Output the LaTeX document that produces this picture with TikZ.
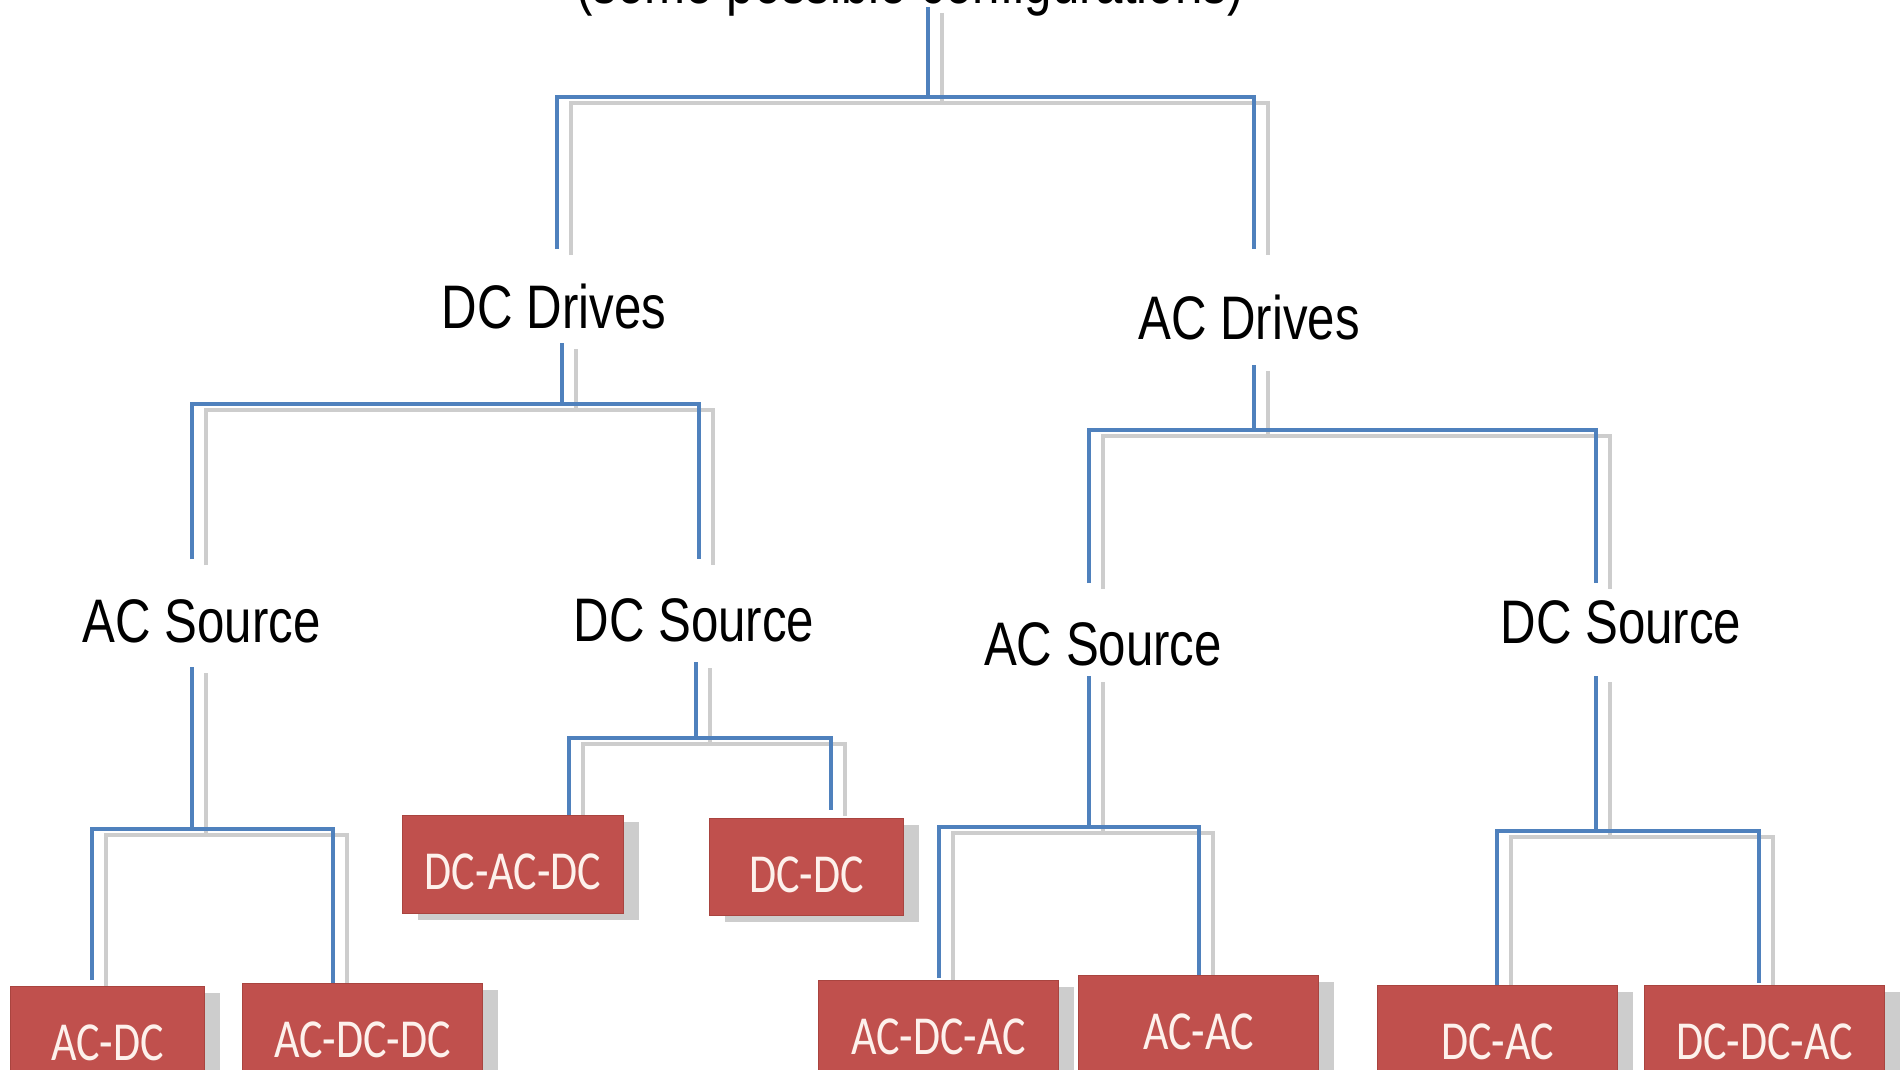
\documentclass[tikz,border=0pt]{standalone}
\usepackage{fontspec}
\usepackage{graphicx}
\setmainfont{Liberation Sans}
\newfontfamily\boxfont{Carlito}
\usetikzlibrary{shadows}
\definecolor{lineblue}{HTML}{4F81BD}
\definecolor{boxred}{HTML}{C0504D}
\definecolor{boxedge}{HTML}{A9443F}
\definecolor{boxtext}{HTML}{FDF1EC}
\definecolor{shgray}{HTML}{CDCDCD}
\newcommand{\vs}[1]{\scalebox{1}[1.25]{#1}}
\begin{document}
\begin{tikzpicture}[x=1pt,y=-1pt,
  lbl/.style={anchor=base, inner sep=0pt, font=\fontsize{49.2}{58}\selectfont, text=black},
  cbox/.style={anchor=north west, inner sep=0pt, fill=boxred, draw=boxedge, line width=1pt,
    text=boxtext, font=\boxfont\fontsize{44}{52}\selectfont, text height=50pt, text depth=0pt,
    drop shadow={shadow xshift=15pt, shadow yshift=-6pt, fill=shgray, opacity=1}},
  bline/.style={draw=lineblue, line width=4pt},
  shline/.style={draw=shgray, line width=3.6pt, transform canvas={shift={(14pt,-6pt)}}},
]
\useasboundingbox (0,0) rectangle (1904,1070);
\clip (0,0) rectangle (1904,1070);
\fill[white] (0,0) rectangle (1904,1070);

% labels
\node[lbl] (title) at (910,3.5) {\vs{(some possible configurations)}};
\node[lbl] (dcd) at (554,328) {\vs{DC Drives}};
\node[lbl] (acd) at (1249,339) {\vs{AC Drives}};
\node[lbl] (acsL) at (201.5,642) {\vs{AC Source}};
\node[lbl] (dcsL) at (694,641) {\vs{DC Source}};
\node[lbl] (acsR) at (1103,665) {\vs{AC Source}};
\node[lbl] (dcsR) at (1621,643) {\vs{DC Source}};

% connector points
\coordinate (s-title) at (928,7);   \coordinate (j-title) at (928,97);
\coordinate (t-dcd) at (557,249);   \coordinate (t-acd) at (1254,249);
\coordinate (s-dcd) at (562,343);   \coordinate (j-dcd) at (562,404);
\coordinate (t-acsL) at (192,559);  \coordinate (t-dcsL) at (699,559);
\coordinate (s-acd) at (1254,365);  \coordinate (j-acd) at (1254,430);
\coordinate (t-acsR) at (1089,583); \coordinate (t-dcsR) at (1596,583);
\coordinate (s-acsL) at (192,667);  \coordinate (j-acsL) at (192,829);
\coordinate (t-b1) at (92,980);     \coordinate (t-b2) at (333,983);
\coordinate (s-dcsL) at (696,662);  \coordinate (j-dcsL) at (696,738);
\coordinate (t-b3) at (569,815);    \coordinate (t-b4) at (831,810);
\coordinate (s-acsR) at (1089,676); \coordinate (j-acsR) at (1089,827);
\coordinate (t-b5) at (939,978);    \coordinate (t-b6) at (1199,975);
\coordinate (s-dcsR) at (1596,676); \coordinate (j-dcsR) at (1596,831);
\coordinate (t-b7) at (1497,985);   \coordinate (t-b8) at (1759,983);

\foreach \st in {shline,bline}{
  \draw[\st] (s-title) -- (j-title);
  \draw[\st] (t-dcd) |- (j-title) -| (t-acd);
  \draw[\st] (s-dcd) -- (j-dcd);
  \draw[\st] (t-acsL) |- (j-dcd) -| (t-dcsL);
  \draw[\st] (s-acd) -- (j-acd);
  \draw[\st] (t-acsR) |- (j-acd) -| (t-dcsR);
  \draw[\st] (s-acsL) -- (j-acsL);
  \draw[\st] (t-b1) |- (j-acsL) -| (t-b2);
  \draw[\st] (s-dcsL) -- (j-dcsL);
  \draw[\st] (t-b3) |- (j-dcsL) -| (t-b4);
  \draw[\st] (s-acsR) -- (j-acsR);
  \draw[\st] (t-b5) |- (j-acsR) -| (t-b6);
  \draw[\st] (s-dcsR) -- (j-dcsR);
  \draw[\st] (t-b7) |- (j-dcsR) -| (t-b8);
}

% converter boxes
\node[cbox, minimum width=194pt, minimum height=98pt] (b1) at (10,986) {\vs{AC-DC}};
\node[cbox, minimum width=240pt, minimum height=98pt] (b2) at (242,983) {\vs{AC-DC-DC}};
\node[cbox, minimum width=221pt, minimum height=98pt] (b3) at (402,815) {\vs{DC-AC-DC}};
\node[cbox, minimum width=194pt, minimum height=97pt] (b4) at (709,818) {\vs{DC-DC}};
\node[cbox, minimum width=240pt, minimum height=98pt] (b5) at (818,980) {\vs{AC-DC-AC}};
\node[cbox, minimum width=240pt, minimum height=98pt] (b6) at (1078,975) {\vs{AC-AC}};
\node[cbox, minimum width=240pt, minimum height=98pt] (b7) at (1377,985) {\vs{DC-AC}};
\node[cbox, minimum width=240pt, minimum height=98pt] (b8) at (1644,985) {\vs{DC-DC-AC}};
\end{tikzpicture}
\end{document}
